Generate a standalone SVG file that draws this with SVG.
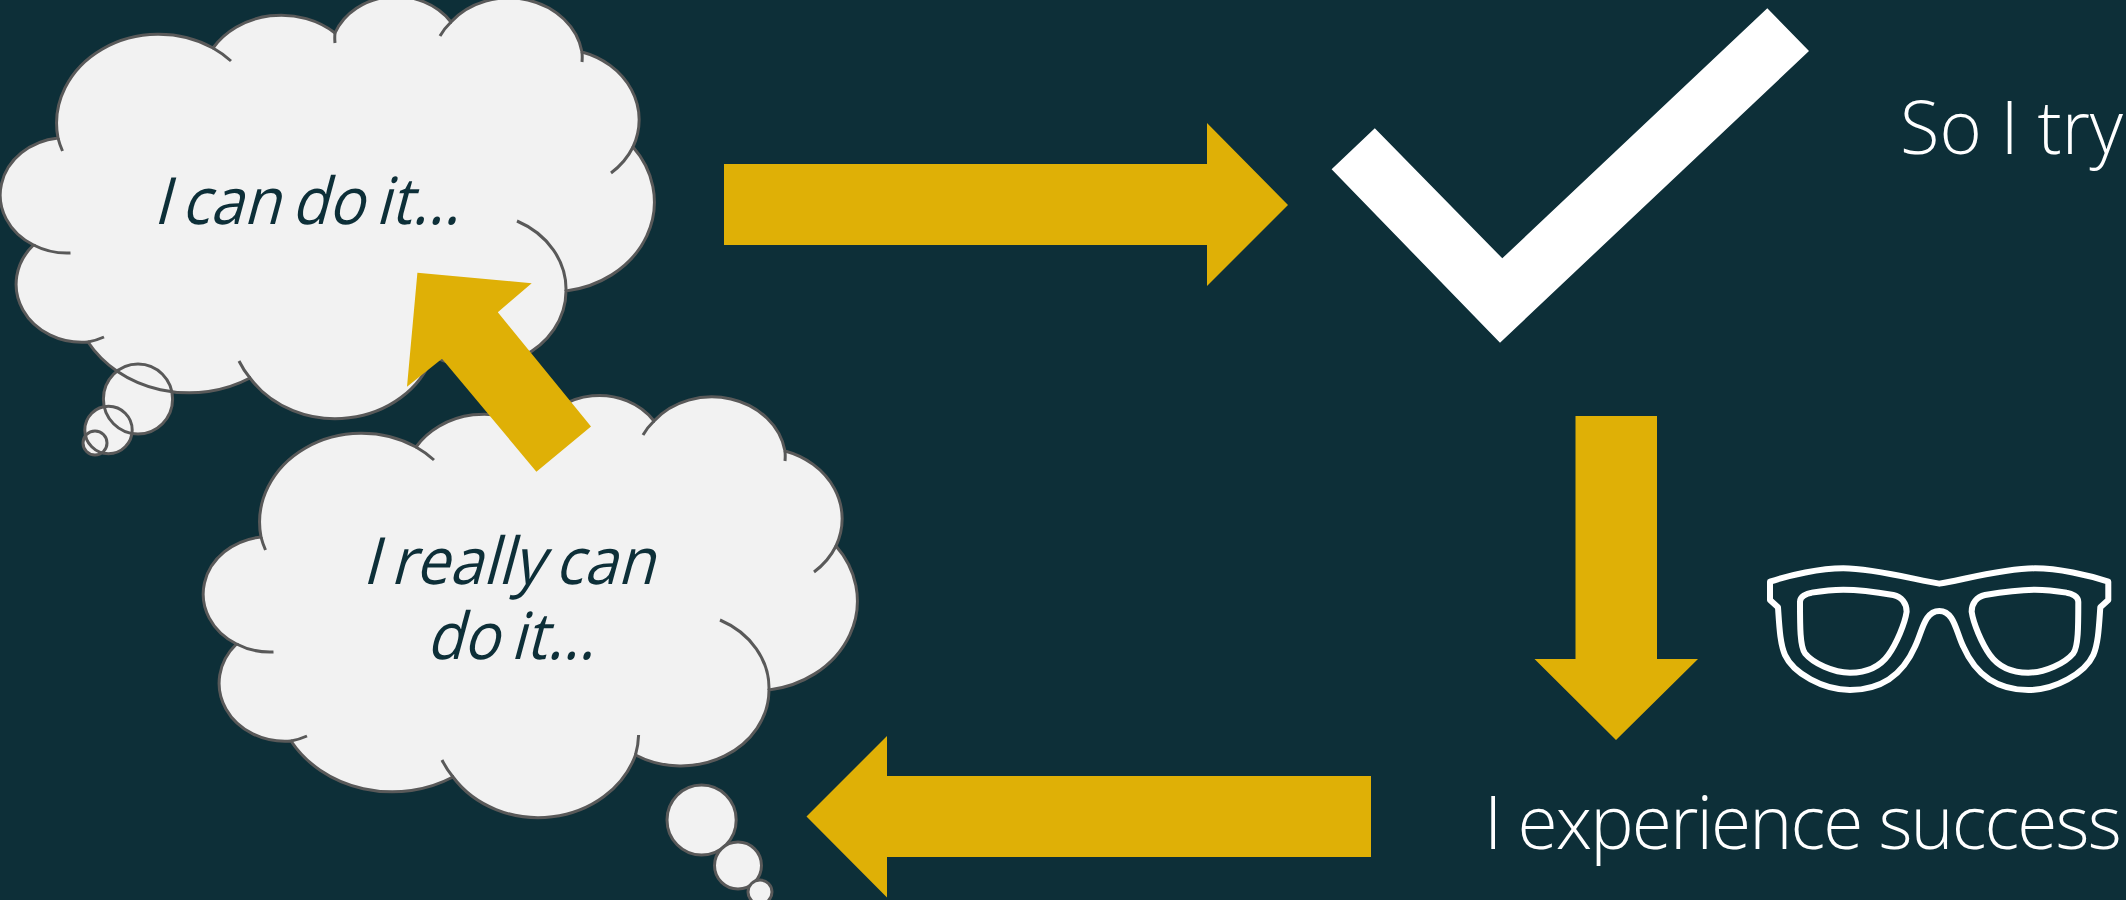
<svg xmlns="http://www.w3.org/2000/svg" width="2126" height="900" viewBox="0 0 2126 900">
<style>
.bg{fill:#0d2f38}
.fill{fill:#f2f2f2;stroke:none}
.line{fill:none;stroke:#595959;stroke-width:3}
.arrow{fill:#dfb006}
.white{fill:#fff}
.gl{fill:none;stroke:#fff;stroke-width:18;stroke-linejoin:round}
text{font-family:"Open Sans","Liberation Sans",sans-serif}
.label{font-size:73px;font-weight:300;fill:#fff}
.think{font-size:65px;font-weight:400;fill:#0d2f38;word-spacing:-5px}
</style>
<defs>
<path id="cloud-shape" d="M58 138A102 89 0 0 1 213 48A81 71 0 0 1 335 33A66 58 0 0 1 451 22A74 64 0 0 1 582 52A81 71 0 0 1 633 147A103 90 0 0 1 566 291A88 76 0 0 1 432.5 356A102 90 0 0 1 250 378A117 102 0 0 1 88 342A66 58 0 0 1 33.5 245A66 57.5 0 0 1 58 138Z"/>
<path id="cloud-stubs" d="M58 138A102 89 0 0 0 62.5 151M213 48A102 89 0 0 1 231 61M335 33A66 58 0 0 0 335 43M451 22A74 64 0 0 0 440 36M582 52A74 64 0 0 1 582 62M633 147A81 71 0 0 1 611 173M566 291A88 76 0 0 0 517 221M432.5 356A102 90 0 0 0 435.6 336M250 378A102 90 0 0 1 239 361M88 342A66 58 0 0 0 104 337M33.5 245A66 58 0 0 0 70.5 253"/>
<path id="lens" d="M180 185C180 170 200 160 215 158C250 152 280 149 310 149C350 149 420 158 460 165C485 170 500 190 500 215C495 250 470 310 445 345C420 380 380 398 330 398C280 398 220 370 195 340C180 320 180 260 180 185Z"/>
</defs>
<rect class="bg" width="2126" height="900"/>
<g id="cloud-1">
<use href="#cloud-shape" class="fill"/>
<ellipse class="fill" cx="138" cy="399" rx="34.6" ry="35"/>
<ellipse class="fill" cx="108.5" cy="430" rx="23.7" ry="23.7"/>
<ellipse class="fill" cx="95" cy="443" rx="12" ry="12"/>
<ellipse class="line" cx="138" cy="399" rx="34.6" ry="35"/>
<ellipse class="line" cx="108.5" cy="430" rx="23.7" ry="23.7"/>
<ellipse class="line" cx="95" cy="443" rx="12" ry="12"/>
<use href="#cloud-shape" class="line"/>
<use href="#cloud-stubs" class="line"/>
<text class="think" transform="translate(153 224) skewX(-15)" textLength="306" lengthAdjust="spacingAndGlyphs">I can do it...</text>
</g>
<g id="cloud-2">
<use href="#cloud-shape" class="fill" transform="translate(203 399)"/>
<use href="#cloud-shape" class="line" transform="translate(203 399)"/>
<use href="#cloud-stubs" class="line" transform="translate(203 399)"/>
<ellipse class="fill" cx="701.6" cy="820" rx="34.6" ry="35"/>
<ellipse class="line" cx="701.6" cy="820" rx="34.6" ry="35"/>
<ellipse class="fill" cx="738" cy="865.5" rx="23.5" ry="23.5"/>
<ellipse class="line" cx="738" cy="865.5" rx="23.5" ry="23.5"/>
<ellipse class="fill" cx="760" cy="892" rx="12" ry="12"/>
<ellipse class="line" cx="760" cy="892" rx="12" ry="12"/>
<text class="think" transform="translate(362 584) skewX(-15)" textLength="292" lengthAdjust="spacingAndGlyphs">I really can</text>
<text class="think" transform="translate(426 659) skewX(-15)" textLength="168" lengthAdjust="spacingAndGlyphs">do it...</text>
</g>
<g id="connectors">
<polygon class="arrow" points="724,164 1207,164 1207,123 1288,205 1207,286 1207,245 724,245"/>
<polygon class="arrow" points="1575.5,416 1657,416 1657,659 1698,659 1616,740 1534.5,659 1575.5,659"/>
<polygon class="arrow" points="1371,776 887,776 887,736 806.5,816.5 887,897.5 887,857 1371,857"/>
<polygon class="arrow" points="417.4,272.7 531.7,283.3 497.8,312.3 591,426.5 536.4,471.7 442,358.7 407,386.7"/>
</g>
<g id="check">
<polygon class="white" points="1767.3,8.3 1809,51 1500,342.7 1331.6,169.3 1374.8,128.3 1502.3,258.3"/>
<text class="label" x="1900" y="154" textLength="223" lengthAdjust="spacingAndGlyphs">So I try</text>
</g>
<g id="glasses" transform="translate(1740 540) scale(0.3333)">
<path class="gl" d="M598 131C530 120 400 85 310 85C240 85 150 105 90 125L90 180L114 202C118 260 120 310 135 345C160 400 250 450 330 450C430 450 490 400 525 320C547 275 553 213 598 213C643 213 648 275 670 320C705 400 765 450 865 450C945 450 1035 400 1060 345C1075 310 1077 260 1081 202L1105 180L1105 125C1045 105 955 85 885 85C795 85 665 120 598 131Z"/>
<use href="#lens" class="gl"/>
<use href="#lens" class="gl" transform="translate(1195 0) scale(-1 1)"/>
</g>
<g id="success">
<text class="label" x="1484" y="849" style="letter-spacing:-1.9px">I experience success</text>
</g>
</svg>
